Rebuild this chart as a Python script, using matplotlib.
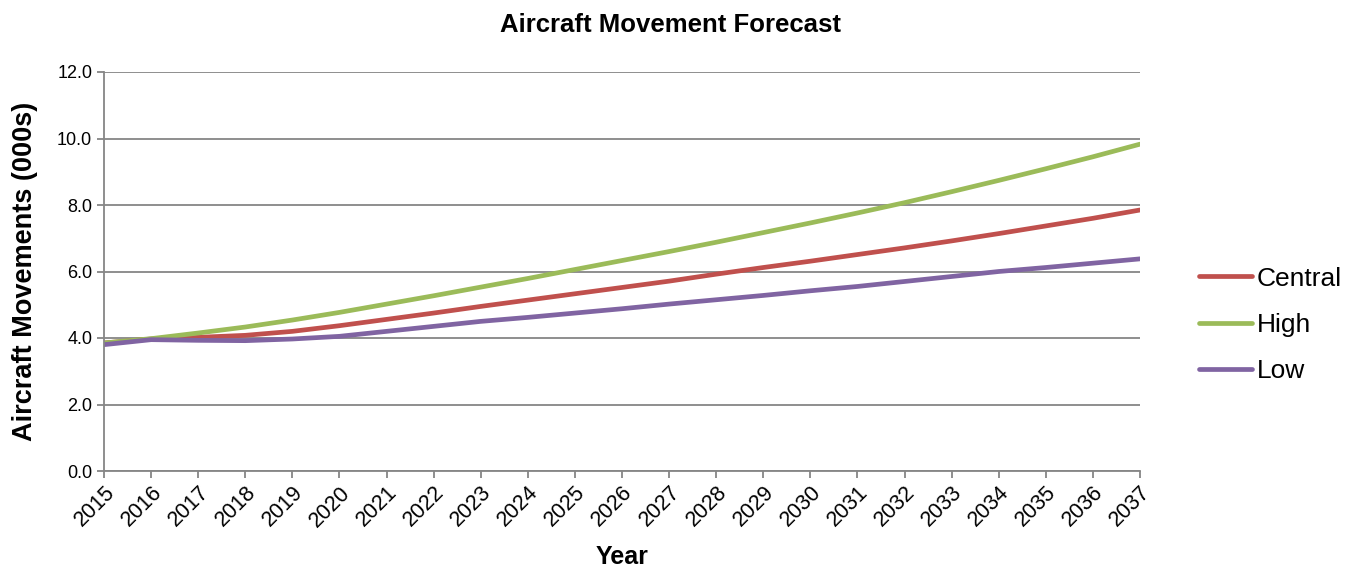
import matplotlib
matplotlib.use("Agg")
import matplotlib.pyplot as plt

plt.rcParams['font.family'] = ['Liberation Sans', 'DejaVu Sans']

years = list(range(2015, 2038))
central = [3.85, 3.97, 4.02, 4.08, 4.20, 4.37, 4.56, 4.75, 4.95, 5.14, 5.33, 5.52,
           5.71, 5.92, 6.12, 6.31, 6.51, 6.71, 6.92, 7.14, 7.37, 7.60, 7.85]
high = [3.85, 3.98, 4.15, 4.33, 4.54, 4.77, 5.02, 5.27, 5.53, 5.79, 6.06, 6.33,
        6.60, 6.88, 7.17, 7.46, 7.76, 8.07, 8.40, 8.74, 9.09, 9.45, 9.83]
low = [3.80, 3.95, 3.93, 3.92, 3.97, 4.05, 4.20, 4.35, 4.50, 4.62, 4.75, 4.88,
       5.02, 5.15, 5.28, 5.42, 5.55, 5.70, 5.85, 6.00, 6.12, 6.25, 6.38]
yticks = [0, 2, 4, 6, 8, 10, 12]

fig = plt.figure(figsize=(13.6, 5.71), dpi=100)
ax = fig.add_axes([104/1360, 100/571, 1036/1360, 399/571])

grid_col = '#868686'
ax.plot(years, central, color='#C0504D', lw=3.4, label='Central', solid_capstyle='round')
ax.plot(years, high, color='#9BBB59', lw=3.4, label='High', solid_capstyle='round')
ax.plot(years, low, color='#8064A2', lw=3.4, label='Low', solid_capstyle='round')

ax.set_xlim(years[0], years[-1])
ax.set_ylim(0, 12)
ax.set_yticks(yticks)
ax.set_yticklabels([f"{v:.1f}" for v in yticks], fontsize=13)
ax.set_xticks(years)
ax.set_xticklabels([str(y) for y in years], rotation=45, ha='right',
                   rotation_mode='anchor', fontsize=15.5)
ax.yaxis.grid(True, color=grid_col, lw=1.3)
ax.set_axisbelow(True)
for s in ['top', 'right']:
    ax.spines[s].set_visible(False)
for s in ['left', 'bottom']:
    ax.spines[s].set_color(grid_col)
    ax.spines[s].set_linewidth(1.3)
ax.tick_params(axis='both', color=grid_col, width=1.3, length=5, direction='out')
ax.tick_params(axis='x', pad=3)

fig.text(670/1360, 1 - 25/571, 'Aircraft Movement Forecast', fontsize=18.5,
         fontweight='bold', ha='center', va='center')
ax.set_xlabel('Year', fontsize=18, fontweight='bold', labelpad=10)
ax.set_ylabel('Aircraft Movements (000s)', fontsize=19.5, fontweight='bold', labelpad=14)

fig.legend(loc='center left', bbox_to_anchor=(1175/1360, 1 - 325/571), frameon=False,
           fontsize=19, handlelength=2.0, handletextpad=0.2, labelspacing=0.85)

fig.savefig('out.png', dpi=100)
